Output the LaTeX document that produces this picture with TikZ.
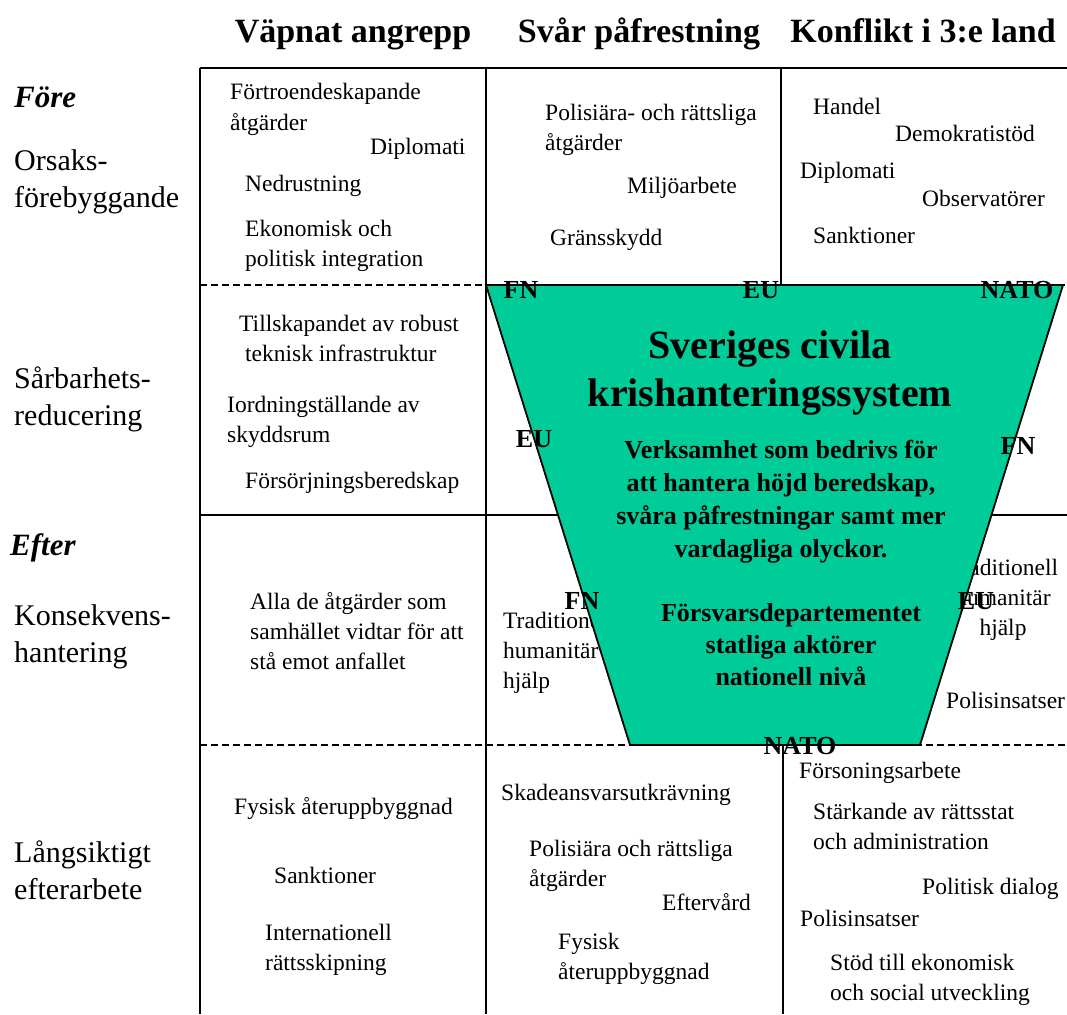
\documentclass[tikz,border=0pt]{standalone}
\usepackage{fontspec}
\setmainfont{Liberation Serif}
\definecolor{krisgreen}{HTML}{00CC99}
\begin{document}
\begin{tikzpicture}[x=1pt, y=-1pt,
    head/.style={anchor=base, font=\fontsize{34}{40}\selectfont\bfseries, inner sep=0pt},
    phase/.style={anchor=base west, font=\fontsize{31}{36}\selectfont\bfseries\itshape, inner sep=0pt},
    rowlabel/.style={anchor=base west, align=left, font=\fontsize{30}{37}\selectfont, inner sep=0pt},
    cell/.style={anchor=base west, align=left, font=\fontsize{23.5}{30}\selectfont, inner sep=0pt},
    org/.style={anchor=base, font=\fontsize{26}{32}\selectfont\bfseries, inner sep=0pt},
    gridline/.style={black, line width=1.8pt},
    dashline/.style={black, line width=1.5pt, dash pattern=on 7pt off 4pt}]
    \useasboundingbox (0,0) rectangle (1067,1014);

    \node[head] (hvapnat) at (353,43) {Väpnat angrepp};
    \node[head] (hsvar) at (639,43) {Svår påfrestning};
    \node[head] (hkonflikt) at (923,43) {Konflikt i 3:e land};

    \node[phase] (fore) at (14,107) {Före};
    \node[phase] (efter) at (10,555) {Efter};
    \node[rowlabel] (orsak) at (14,207) {Orsaks-\\förebyggande};
    \node[rowlabel] (sarbar) at (14,425) {Sårbarhets-\\reducering};
    \node[rowlabel] (konsek) at (14,662) {Konsekvens-\\hantering};
    \node[rowlabel] (langsikt) at (14,899) {Långsiktigt\\efterarbete};

    \node[cell] (fortroende) at (230,130) {Förtroendeskapande\\åtgärder};
    \node[cell] (diplomatia) at (370,154) {Diplomati};
    \node[cell] (nedrust) at (245,191) {Nedrustning};
    \node[cell] (ekonomisk) at (245,266) {Ekonomisk och\\politisk integration};
    \node[cell] (polisiaraa) at (545,150) {Polisiära- och rättsliga\\åtgärder};
    \node[cell] (miljo) at (627,193) {Miljöarbete};
    \node[cell] (grans) at (550,245) {Gränsskydd};
    \node[cell] (handel) at (813,114) {Handel};
    \node[cell] (demokrati) at (895,141) {Demokratistöd};
    \node[cell] (diplomatib) at (800,178) {Diplomati};
    \node[cell] (observ) at (922,206) {Observatörer};
    \node[cell] (sanktiona) at (813,243) {Sanktioner};

    \node[cell] (tillskap) at (239,361) {Tillskapandet av robust\\\hspace*{6pt}teknisk infrastruktur};
    \node[cell] (iordning) at (227,442) {Iordningställande av\\skyddsrum};
    \node[cell] (forsorj) at (245,488) {Försörjningsberedskap};

    \node[cell] (alla) at (250,669) {Alla de åtgärder som\\samhället vidtar för att\\stå emot anfallet};
    \node[cell] (tradita) at (503,688) {Traditionell\\humanitär\\hjälp};
    \node[cell, anchor=base, align=center] (traditb) at (1003,635) {Traditionell\\humanitär\\hjälp};
    \node[cell] (polisa) at (946,708) {Polisinsatser};

    \node[cell] (fysiska) at (234,814) {Fysisk återuppbyggnad};
    \node[cell] (sanktionb) at (274,883) {Sanktioner};
    \node[cell] (internat) at (265,970) {Internationell\\rättsskipning};
    \node[cell] (skade) at (501,800) {Skadeansvarsutkrävning};
    \node[cell] (polisiarab) at (529,886) {Polisiära och rättsliga\\åtgärder};
    \node[cell] (efterv) at (662,910) {Eftervård};
    \node[cell] (fysiskb) at (558,979) {Fysisk\\återuppbyggnad};
    \node[cell] (forsoning) at (799,778) {Försoningsarbete};
    \node[cell] (starkande) at (813,849) {Stärkande av rättsstat\\och administration};
    \node[cell] (dialog) at (922,894) {Politisk dialog};
    \node[cell] (polisb) at (800,926) {Polisinsatser};
    \node[cell] (stod) at (830,1000) {Stöd till ekonomisk\\och social utveckling};

    \draw[gridline] (200,68) -- (1067,68);
    \draw[gridline] (200,68) -- (200,1014);
    \draw[gridline] (486,68) -- (486,1014);
    \draw[gridline] (781,68) -- (781,285);
    \draw[gridline] (783,745) -- (783,1014);
    \draw[gridline] (200,515) -- (1067,515);
    \draw[dashline] (200,285) -- (1067,285);
    \draw[dashline] (200,745) -- (1067,745);

    \coordinate (tl) at (486,285);
    \coordinate (tr) at (1063,285);
    \coordinate (br) at (920,745);
    \coordinate (bl) at (630,745);
    \filldraw[fill=krisgreen, draw=black, line width=1.8pt] (tl) -- (tr) -- (br) -- (bl) -- cycle;

    \node[anchor=base, align=center, font=\fontsize{40}{48}\selectfont\bfseries, inner sep=0pt] (titel) at (770,406) {Sveriges civila\\krishanteringssystem};
    \node[anchor=base, align=center, font=\fontsize{26}{33}\selectfont\bfseries, inner sep=0pt] (verksamhet) at (781,557) {Verksamhet som bedrivs för\\att hantera höjd beredskap,\\svåra påfrestningar samt mer\\vardagliga olyckor.};
    \node[anchor=base, align=center, font=\fontsize{26}{32}\selectfont\bfseries, inner sep=0pt] (fodep) at (791,685) {Försvarsdepartementet\\statliga aktörer\\nationell nivå};

    \node[org] (fna) at (521,298) {FN};
    \node[org] (eua) at (761,298) {EU};
    \node[org] (natoa) at (1017,298) {NATO};
    \node[org] (eub) at (534,447) {EU};
    \node[org] (fnb) at (1018,454) {FN};
    \node[org] (fnc) at (582,609) {FN};
    \node[org] (euc) at (976,609) {EU};
    \node[org] (natob) at (800,754) {NATO};
\end{tikzpicture}
\end{document}
